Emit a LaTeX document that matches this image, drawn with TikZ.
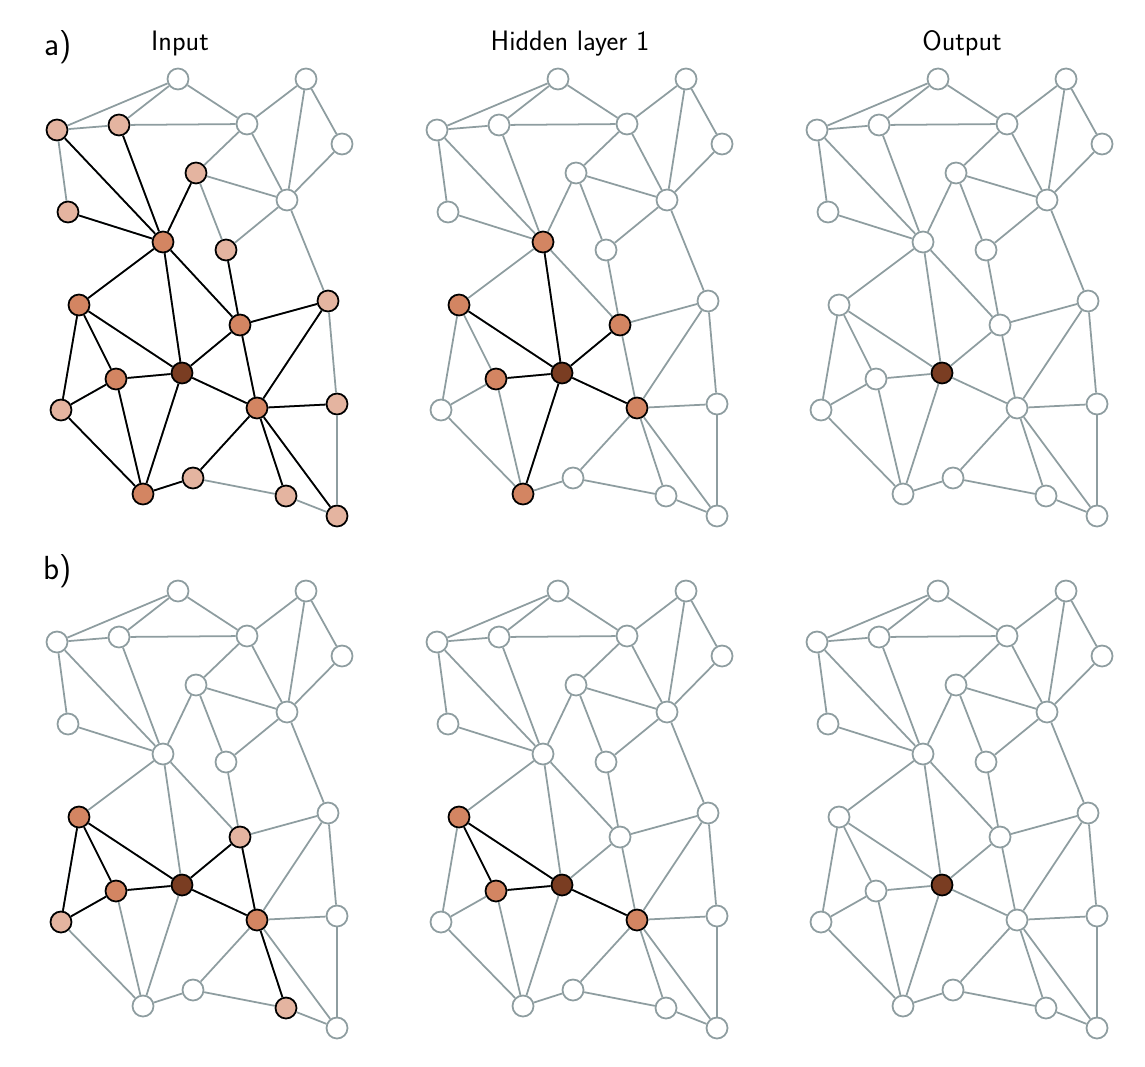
\documentclass[tikz,border=0pt]{standalone}
\usepackage{fontspec}

\definecolor{linkgray}{HTML}{8E9DA0}
\definecolor{srcbrown}{HTML}{7A3D22}
\definecolor{onefill}{HTML}{D38562}
\definecolor{twofill}{HTML}{E4B4A0}

\tikzset{
  vtx/.style={circle, draw=linkgray, fill=white, line width=1pt, minimum size=0.42cm, inner sep=0pt},
  srcnode/.style={fill=srcbrown, draw=black},
  ringone/.style={fill=onefill, draw=black},
  ringtwo/.style={fill=twofill, draw=black},
  link/.style={draw=linkgray, line width=1pt},
  hotlink/.style={draw=black, line width=1pt},
  coltitle/.style={font=\sffamily\fontsize{16}{19}\selectfont, anchor=base},
  rowlabel/.style={font=\sffamily\fontsize{19}{22}\selectfont, anchor=base},
  setsrc/.style={#1/.style=srcnode},
  setone/.style={#1/.style=ringone},
  settwo/.style={#1/.style=ringtwo},
}

% colours of the panels
\tikzset{
  setsrc/.list={aI15,aH15,aO15,bI15,bH15,bO15},
  setone/.list={aI10,aI12,aI14,aI16,aI18,aI21,aH10,aH12,aH14,aH16,aH18,aH21,bI12,bI16,bI18,bH12,bH16,bH18},
  settwo/.list={aI3,aI4,aI7,aI9,aI11,aI13,aI17,aI19,aI20,aI22,aI23,bI14,bI17,bI22},
}

% the graph
\def\vertices{1/178/79, 2/306/79, 3/57/130, 4/119/125, 5/247/124, 6/342/144,
  7/196/173, 8/287/200, 9/68/212, 10/163/242, 11/226/250, 12/79/305,
  13/328/301, 14/240/325, 15/182/373, 16/116/379, 17/61/410, 18/257/408,
  19/337/404, 20/193/478, 21/143/494, 22/286/496, 23/337/516}
\def\links{1/3, 1/4, 1/5, 3/4, 4/5, 2/5, 2/8, 2/6, 6/8, 5/7, 5/8, 3/9, 3/10,
  4/10, 9/10, 7/10, 7/8, 7/11, 8/11, 8/13, 10/12, 10/15, 10/14, 11/14,
  12/16, 12/17, 12/15, 15/16, 16/17, 16/21, 17/21, 15/21, 14/15, 15/18,
  13/14, 14/18, 13/18, 13/19, 18/19, 18/20, 18/22, 18/23, 19/23, 20/21,
  20/22, 22/23}

\begin{document}
\begin{tikzpicture}[x=0.02cm, y=-0.02cm]
  \useasboundingbox (0,0) rectangle (1145,1067);

  \node[rowlabel] (alabel) at (58,56) {a)};
  \node[rowlabel] (blabel) at (58,579) {b)};
  \node[coltitle] (intitle) at (180,51) {Input};
  \node[coltitle] (hidtitle) at (570,51) {Hidden layer 1};
  \node[coltitle] (outtitle) at (962,51) {Output};

  % nodes
  \foreach \p/\dx/\dy in {aI/0/0, aH/380/0, aO/760/0, bI/0/512, bH/380/512, bO/760/512} {
    \foreach \i/\x/\y in \vertices {
      \node[vtx, \p\i/.try] (\p\i) at ({\x+\dx},{\y+\dy}) {};
    }
  }

  % connectors
  \foreach \p in {aI,aH,aO,bI,bH,bO} {
    \foreach \u/\v in \links {
      \draw[link] (\p\u) -- (\p\v);
    }
  }
  \foreach \p/\hot in {
      aI/{3/10, 4/10, 9/10, 7/10, 10/12, 10/15, 10/14, 11/14, 12/16, 12/17,
          12/15, 15/16, 16/17, 16/21, 17/21, 15/21, 14/15, 15/18, 13/14,
          14/18, 13/18, 18/19, 18/20, 18/22, 18/23, 20/21},
      aH/{10/15, 12/15, 14/15, 15/16, 15/18, 15/21},
      bI/{12/15, 12/16, 12/17, 16/17, 15/16, 14/15, 15/18, 14/18, 18/22},
      bH/{12/15, 12/16, 15/16, 15/18}} {
    \foreach \u/\v in \hot {
      \draw[hotlink] (\p\u) -- (\p\v);
    }
  }
\end{tikzpicture}
\end{document}
